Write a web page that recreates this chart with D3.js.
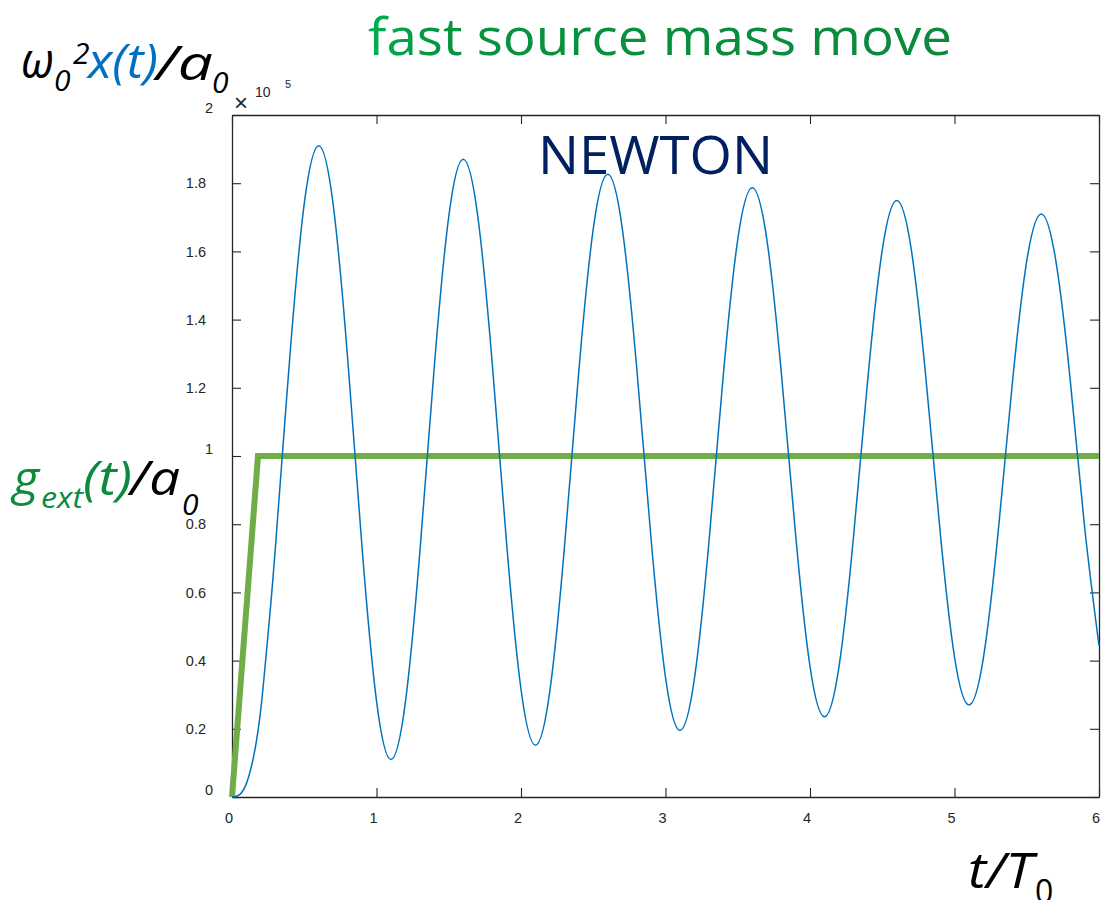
<!DOCTYPE html>
<html>
<head>
<meta charset="utf-8">
<script src="https://cdn.jsdelivr.net/npm/d3@7"></script>
<style>
  body { margin: 0; background: #ffffff; }
  svg { display: block; }
</style>
</head>
<body>
<svg id="chart" width="1101" height="900"></svg>
<script>
// Oscillator response x(t) (scaled by omega0^2 / a0, units of 1e5) versus t/T0
const timeSteps = [
  0, 0.05, 0.1, 0.15, 0.2, 0.25, 0.3, 0.4, 0.5, 0.6, 0.7, 0.8, 0.9,
  1.0, 1.1, 1.2, 1.3, 1.4, 1.5, 1.6, 1.7, 1.8, 1.9,
  2.0, 2.1, 2.2, 2.3, 2.4, 2.5, 2.6, 2.7, 2.8, 2.9,
  3.0, 3.1, 3.2, 3.3, 3.4, 3.5, 3.6, 3.7, 3.8, 3.9,
  4.0, 4.1, 4.2, 4.3, 4.4, 4.5, 4.6, 4.7, 4.8, 4.9,
  5.0, 5.1, 5.2, 5.3, 5.4, 5.5, 5.6, 5.7, 5.8, 5.9, 6.0
];
const displacement = [
  0, 0.006, 0.04, 0.12, 0.26, 0.48, 0.73, 1.29, 1.74, 1.91, 1.738, 1.288, 0.732,
  0.282, 0.11, 0.278, 0.718, 1.262, 1.702, 1.87, 1.706, 1.276, 0.746,
  0.316, 0.152, 0.312, 0.730, 1.248, 1.666, 1.826, 1.670, 1.262, 0.758,
  0.351, 0.195, 0.347, 0.745, 1.237, 1.635, 1.787, 1.639, 1.251, 0.771,
  0.383, 0.235, 0.380, 0.758, 1.226, 1.604, 1.749, 1.608, 1.238, 0.781,
  0.411, 0.27, 0.408, 0.768, 1.212, 1.572, 1.71, 1.576, 1.226, 0.794, 0.444
];

// External acceleration g_ext(t)/a0: fast ramp then constant
const forceTimes = [0, 0.18, 6];
const forceValues = [0, 1, 1];

// Axis ticks
const xTicks = [0, 1, 2, 3, 4, 5, 6];
const xTickLabels = ["0", "1", "2", "3", "4", "5", "6"];
const yTicks = [0, 0.2, 0.4, 0.6, 0.8, 1, 1.2, 1.4, 1.6, 1.8, 2];
const yTickLabels = ["0", "0.2", "0.4", "0.6", "0.8", "1", "1.2", "1.4", "1.6", "1.8", "2"];

const svg = d3.select("#chart");
const plot = { left: 232, right: 1099, top: 115, bottom: 797 };

const x = d3.scaleLinear().domain([0, 6]).range([plot.left, plot.right]);
const y = d3.scaleLinear().domain([0, 2]).range([plot.bottom, plot.top]);

const axisColor = "#262626";
const tickFont = "'Liberation Sans', Arial, Helvetica, sans-serif";

// Title gradient (lighter green at the start of the line)
const defs = svg.append("defs");
const grad = defs.append("linearGradient")
  .attr("id", "titleGreen")
  .attr("gradientUnits", "userSpaceOnUse")
  .attr("x1", 368).attr("x2", 952).attr("y1", 0).attr("y2", 0);
grad.append("stop").attr("offset", "0").attr("stop-color", "#00B050");
grad.append("stop").attr("offset", "0.12").attr("stop-color", "#05943F");
grad.append("stop").attr("offset", "1").attr("stop-color", "#0B883C");

// Plot box
svg.append("rect")
  .attr("x", plot.left).attr("y", plot.top)
  .attr("width", plot.right - plot.left).attr("height", plot.bottom - plot.top)
  .attr("fill", "#ffffff");

// Bottom axis (ticks point inward)
const gx = svg.append("g")
  .attr("transform", `translate(0,${plot.bottom})`)
  .call(d3.axisBottom(x).tickValues(xTicks)
    .tickFormat((d, i) => xTickLabels[i])
    .tickSize(-9).tickSizeOuter(0).tickPadding(16));
gx.selectAll("text").attr("dx", -3.5);

// Left axis
const gy = svg.append("g")
  .attr("transform", `translate(${plot.left},0)`)
  .call(d3.axisLeft(y).tickValues(yTicks)
    .tickFormat((d, i) => yTickLabels[i])
    .tickSize(-9).tickSizeOuter(0).tickPadding(19));
// integer labels sit slightly higher and further right than decimal ones
gy.selectAll("text")
  .attr("dx", (d, i) => yTickLabels[i].includes(".") ? -7 : 0)
  .attr("dy", (d, i) => yTickLabels[i].includes(".") ? "0.32em" : "-0.15em");

// Top and right axes: ticks only
svg.append("g")
  .attr("transform", `translate(0,${plot.top})`)
  .call(d3.axisTop(x).tickValues(xTicks).tickFormat("").tickSize(-9).tickSizeOuter(0));
svg.append("g")
  .attr("transform", `translate(${plot.right},0)`)
  .call(d3.axisRight(y).tickValues(yTicks).tickFormat("").tickSize(-9).tickSizeOuter(0));

svg.selectAll(".domain").attr("stroke", axisColor).attr("stroke-width", 1.3);
svg.selectAll(".tick line").attr("stroke", axisColor).attr("stroke-width", 1.1);
svg.selectAll(".tick text")
  .attr("fill", axisColor)
  .style("font-family", tickFont)
  .style("font-size", "14.5px");

// Exponent marker above the y axis
const expo = svg.append("g").attr("fill", axisColor).style("font-family", tickFont);
expo.append("text").attr("x", 234).attr("y", 111).style("font-size", "24px")
  .style("font-weight", "300").text("\u00d7");
expo.append("text").attr("x", 255).attr("y", 97).style("font-size", "14px").text("10");
expo.append("text").attr("x", 285).attr("y", 88).style("font-size", "11px").text("5");

// External acceleration (thick green)
const forceLine = d3.line()
  .x((d, i) => x(forceTimes[i]))
  .y((d, i) => y(forceValues[i]));
svg.append("path")
  .datum(forceTimes)
  .attr("d", forceLine)
  .attr("fill", "none")
  .attr("stroke", "#70AD47")
  .attr("stroke-width", 6)
  .attr("stroke-linejoin", "miter");

// Displacement response (thin blue)
const respLine = d3.line()
  .x((d, i) => x(timeSteps[i]))
  .y((d, i) => y(displacement[i]))
  .curve(d3.curveNatural);
svg.append("path")
  .datum(timeSteps)
  .attr("d", respLine)
  .attr("fill", "none")
  .attr("stroke", "#0072BD")
  .attr("stroke-width", 1.5);

// Titles and axis annotations
const labelFont = "'Open Sans', 'Noto Sans', sans-serif";

svg.append("text")
  .attr("x", 368).attr("y", 55)
  .attr("textLength", 584).attr("lengthAdjust", "spacingAndGlyphs")
  .attr("fill", "url(#titleGreen)")
  .style("font-family", labelFont).style("font-size", "52px")
  .text("fast source mass move");

svg.append("text")
  .attr("x", 538).attr("y", 174)
  .attr("textLength", 235).attr("lengthAdjust", "spacingAndGlyphs")
  .attr("fill", "#002060")
  .style("font-family", labelFont).style("font-size", "53px")
  .text("NEWTON");

function piece(g, str, px, py, size, color, len, italic = true) {
  const t = g.append("text")
    .attr("x", px).attr("y", py)
    .attr("fill", color)
    .style("font-family", labelFont)
    .style("font-style", italic ? "italic" : "normal")
    .style("font-size", size + "px")
    .text(str);
  if (len) t.attr("textLength", len).attr("lengthAdjust", "spacingAndGlyphs");
  return t;
}

// y-axis quantity: omega0^2 x(t) / a0
const yl = svg.append("g");
piece(yl, "\u03c9", 21, 78, 50, "#000000", 33);
piece(yl, "0", 54, 91, 30, "#000000");
piece(yl, "2", 73, 64, 30, "#000000");
piece(yl, "x(t)", 88, 78, 48, "#0070C0", 70);
piece(yl, "/a", 156, 80, 48, "#000000", 57);
piece(yl, "0", 212, 93, 30, "#000000");

// secondary quantity: g_ext(t) / a0
const gl = svg.append("g");
piece(gl, "g", 13, 495, 48, "#0C8A3E", 26);
piece(gl, "ext", 41, 508, 30, "#0C8A3E", 42);
piece(gl, "(t)", 83, 495, 48, "#0C8A3E", 49);
piece(gl, "/a", 130, 495, 48, "#000000", 50);
piece(gl, "0", 182, 515, 30, "#000000");

// time axis quantity: t / T0
const tl = svg.append("g");
piece(tl, "t/T", 968, 888, 50, "#000000", 65);
piece(tl, "0", 1035, 903, 32, "#000000", null, false);
</script>
</body>
</html>
